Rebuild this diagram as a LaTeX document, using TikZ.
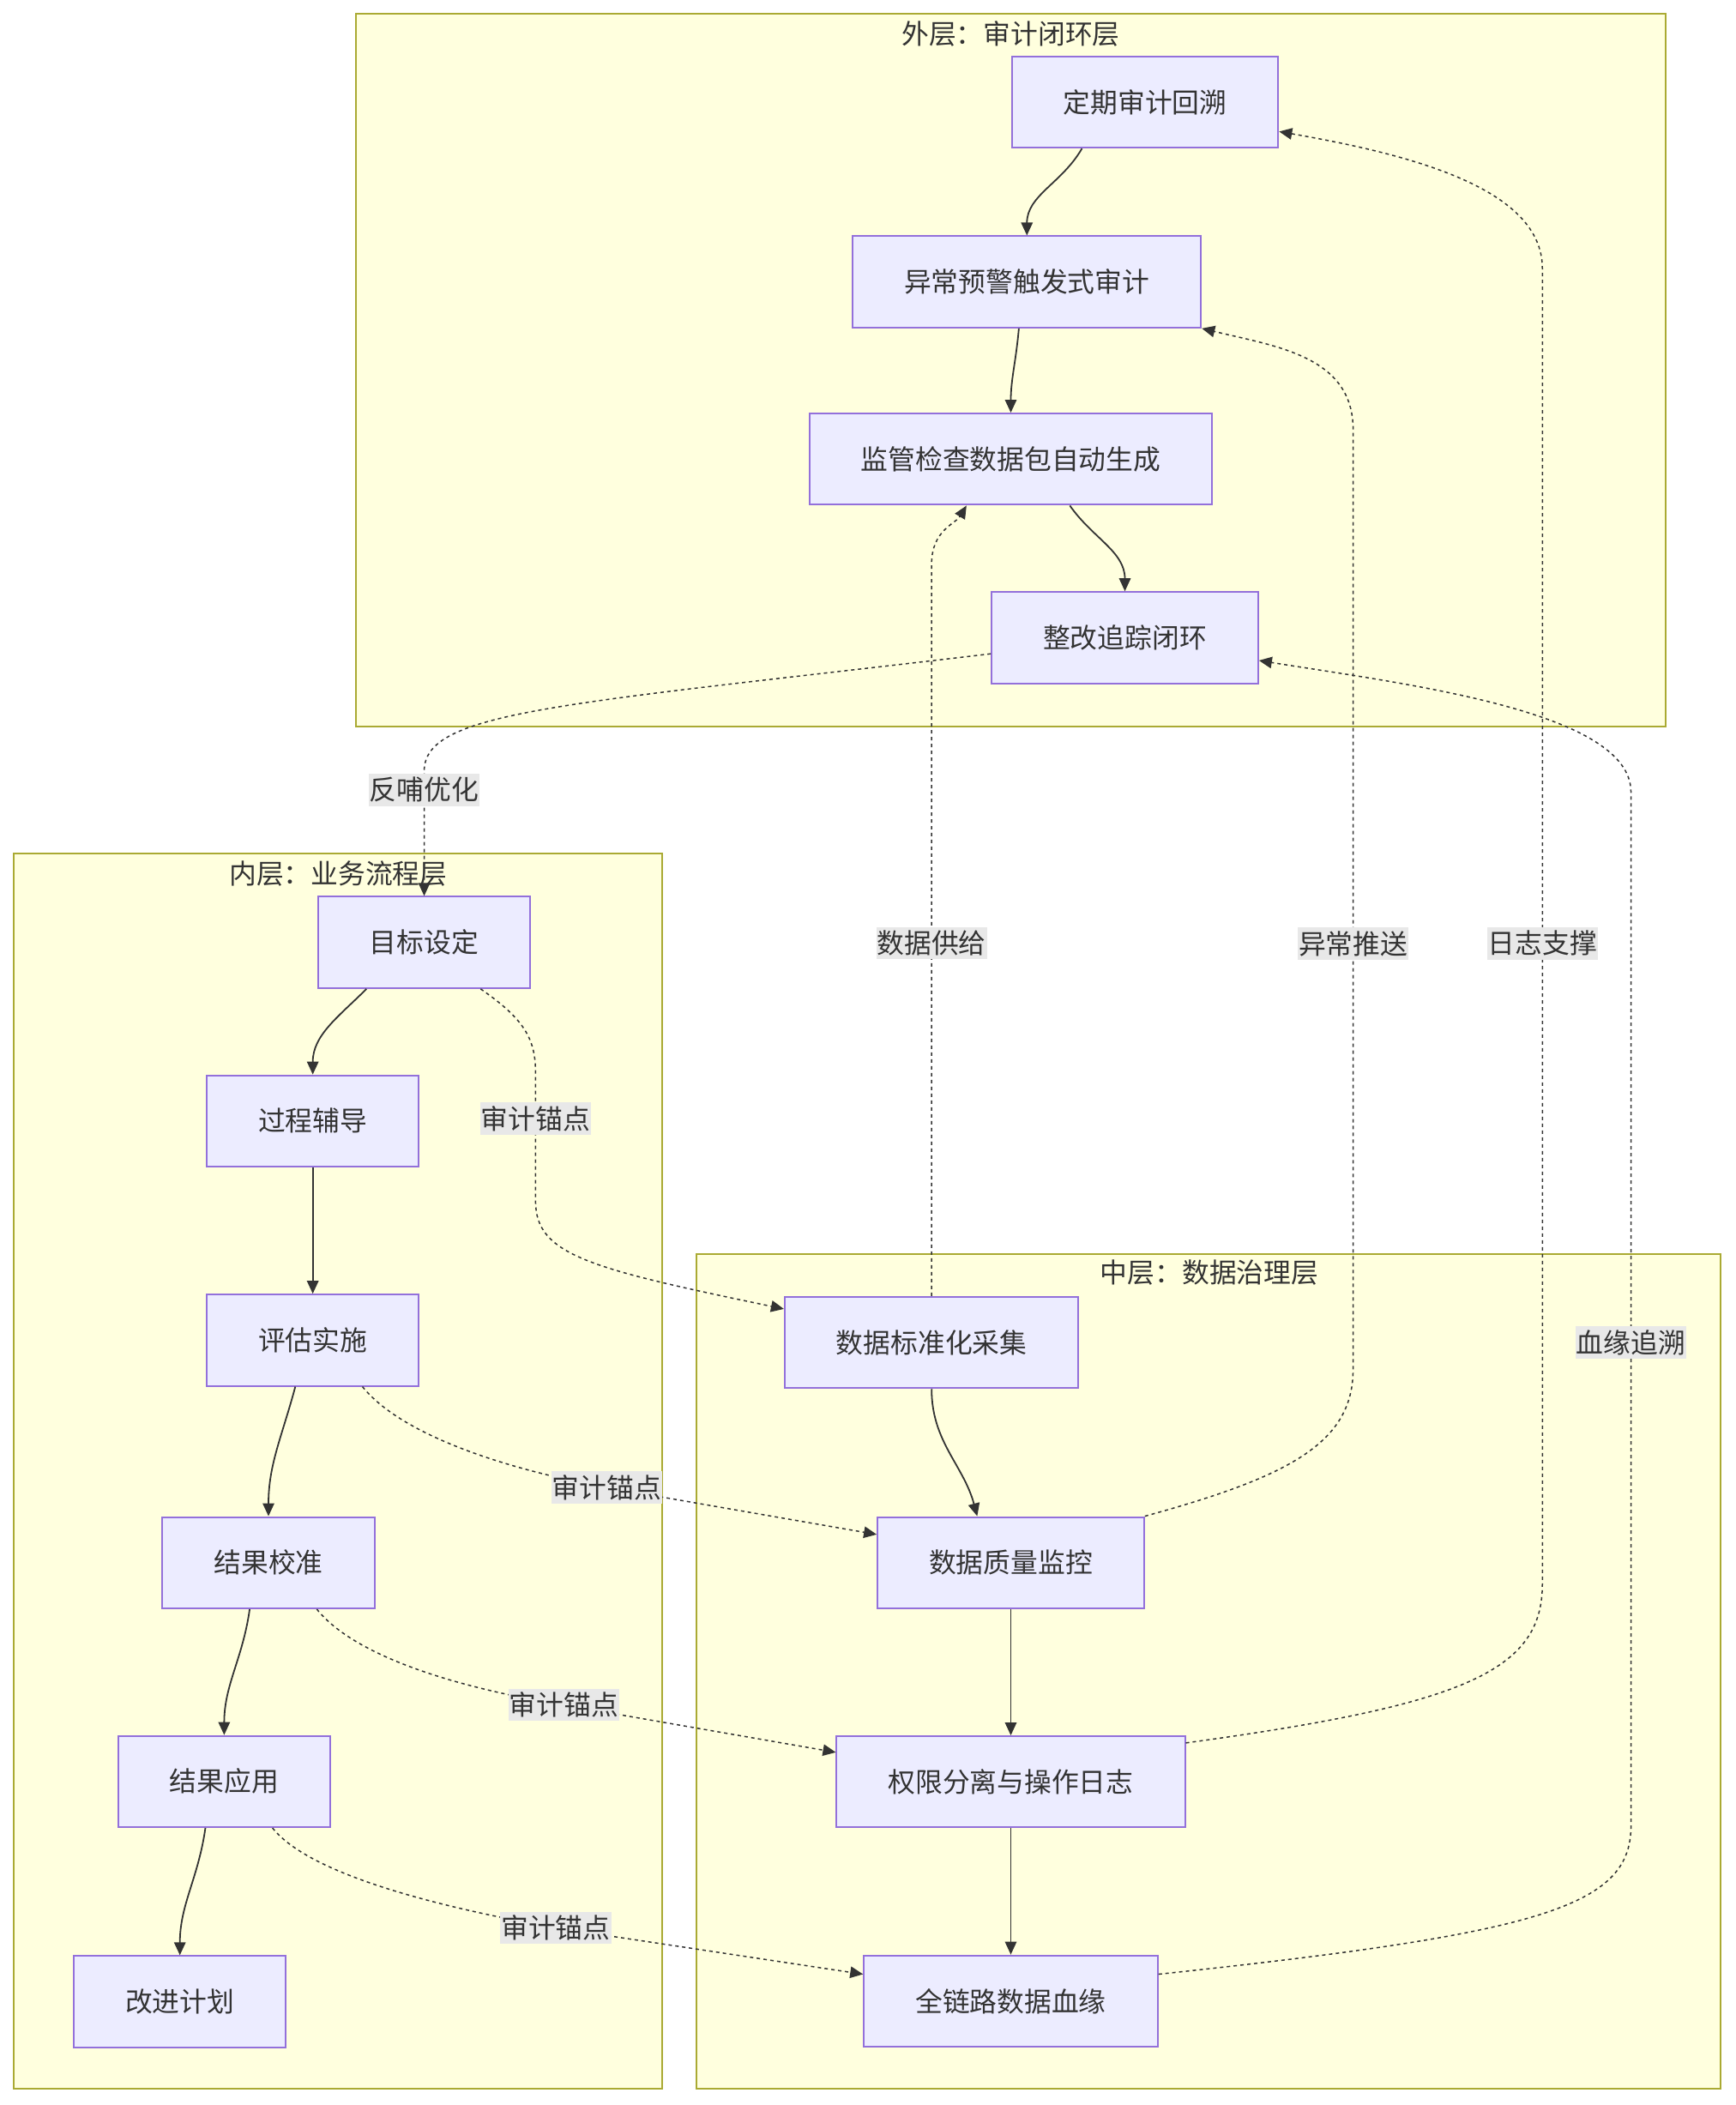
\documentclass[tikz,border=0pt]{standalone}
\usepackage{fontspec}
\setmainfont{Noto Sans CJK SC}
\usetikzlibrary{arrows.meta,positioning,calc}
\definecolor{grpfill}{HTML}{FFFFDE}
\definecolor{grpline}{HTML}{AAAA33}
\definecolor{boxfill}{HTML}{ECECFF}
\definecolor{boxline}{HTML}{9370DB}
\definecolor{ink}{HTML}{333333}
\definecolor{lblfill}{HTML}{E8E8E8}

\begin{document}
\begin{tikzpicture}[
    x=0.7827pt, y=0.7827pt,
    font=\fontsize{15.9}{19}\selectfont, text=ink,
    node distance=73.6pt,
    grp/.style={draw=grpline, fill=grpfill, line width=1pt},
    grptitle/.style={inner sep=0pt},
    proc/.style={rectangle, draw=boxline, fill=boxfill, line width=1pt, minimum height=53.2pt, inner xsep=30pt},
    lbl/.style={rectangle, fill=lblfill, inner xsep=0.5pt, inner ysep=1pt, minimum height=18.8pt},
    arrow/.style={-{Triangle[length=7.5pt,width=6.7pt]}, line width=0.9pt, draw=ink},
    dotarrow/.style={arrow, line width=0.75pt, dash pattern=on 2pt off 2pt}
]
    \useasboundingbox (0,0) rectangle (1293,-1568);

    \draw [grp] (265,-10) rectangle (1241,-541);
    \draw [grp] (10,-636) rectangle (493,-1556);
    \draw [grp] (519,-934) rectangle (1282,-1556);
    \node [grptitle] (t1) at (753,-25) {外层：审计闭环层};
    \node [grptitle] (t2) at (252,-651) {内层：业务流程层};
    \node [grptitle] (t3) at (901,-948) {中层：数据治理层};

    \node [proc] (o1) at (853,-76) {定期审计回溯};
    \node [proc] (o2) at (765,-210) {异常预警触发式审计};
    \node [proc] (o3) at (753,-342) {监管检查数据包自动生成};
    \node [proc] (o4) at (838,-475) {整改追踪闭环};

    \node [proc] (i1) at (316,-702) {目标设定};
    \node [proc] (i2) at (233,-835) {过程辅导};
    \node [proc, below=of i2] (i3) {评估实施};
    \node [proc] (i4) at (200,-1164) {结果校准};
    \node [proc] (i5) at (167,-1327) {结果应用};
    \node [proc] (i6) at (134,-1491) {改进计划};

    \node [proc] (m1) at (694,-1000) {数据标准化采集};
    \node [proc] (m2) at (753,-1164) {数据质量监控};
    \node [proc, below=of m2] (m3) {权限分离与操作日志};
    \node [proc, below=of m3] (m4) {全链路数据血缘};

    \draw [arrow] ($(o1.south)+(-47,0)$) to[out=-120,in=90] (o2.north);
    \draw [arrow] ($(o2.south)+(-6,0)$) to[out=-95,in=90] (o3.north);
    \draw [arrow] ($(o3.south)+(44,0)$) to[out=-55,in=90] (o4.north);
    \draw [arrow] ($(i1.south)+(-43,0)$) to[out=-135,in=90] (i2.north);
    \draw [arrow] (i2) -- (i3);
    \draw [arrow] ($(i3.south)+(-13,0)$) to[out=-105,in=90] (i4.north);
    \draw [arrow] ($(i4.south)+(-14,0)$) to[out=-98,in=90] (i5.north);
    \draw [arrow] ($(i5.south)+(-14,0)$) to[out=-98,in=90] (i6.north);
    \draw [arrow] (m1.south) to[out=-90,in=105] ($(m2.north)+(-25,0)$);
    \draw [arrow] (m2) -- (m3);
    \draw [arrow] (m3) -- (m4);

    \draw [dotarrow] ($(o4.west)+(0,-12)$) .. controls +(-320,-38) and +(0,45) .. ($(i1.north)+(0,93)$) -- node[lbl, pos=0.15] {反哺优化} (i1.north);
    \draw [dotarrow] ($(i1.south)+(42,0)$) .. controls (392,-760) and (399,-775) .. (399,-800) -- node[lbl, pos=0.35] {审计锚点} (399,-895) .. controls (399,-935) and (440,-945) .. ($(m1.west)+(0,25)$);
    \draw [dotarrow] ($(i3.south)+(37,0)$) .. controls (300,-1070) and (380,-1095) .. (452,-1108) node[lbl] {审计锚点} -- ($(m2.west)+(0,21)$);
    \draw [dotarrow] ($(i4.south)+(36,0)$) .. controls (265,-1235) and (345,-1258) .. (420,-1270) node[lbl] {审计锚点} -- ($(m3.west)+(0,22)$);
    \draw [dotarrow] ($(i5.south)+(36,0)$) .. controls (232,-1398) and (335,-1422) .. (414,-1436) node[lbl] {审计锚点} -- ($(m4.west)+(0,20)$);
    \draw [dotarrow] (m1.north) -- node[lbl, pos=0.482] {数据供给} (694,-420) .. controls (694,-395) and (712,-390) .. ($(o3.south)+(-33,0)$);
    \draw [dotarrow] (m2.north east) .. controls (960,-1100) and (1008,-1075) .. (1008,-1020) -- node[lbl, pos=0.453] {异常推送} (1008,-320) .. controls (1008,-265) and (950,-258) .. (o2.south east);
    \draw [dotarrow] ($(m3.east)+(0,29)$) .. controls (1090,-1270) and (1149,-1245) .. (1149,-1180) -- node[lbl, pos=0.487] {日志支撑} (1149,-200) .. controls (1149,-140) and (1050,-115) .. ($(o1.east)+(0,-22)$);
    \draw [dotarrow] ($(m4.east)+(0,20)$) .. controls (1150,-1440) and (1215,-1420) .. (1215,-1360) -- node[lbl, pos=0.4675] {血缘追溯} (1215,-590) .. controls (1215,-530) and (1050,-510) .. ($(o4.east)+(0,-17)$);
\end{tikzpicture}
\end{document}
